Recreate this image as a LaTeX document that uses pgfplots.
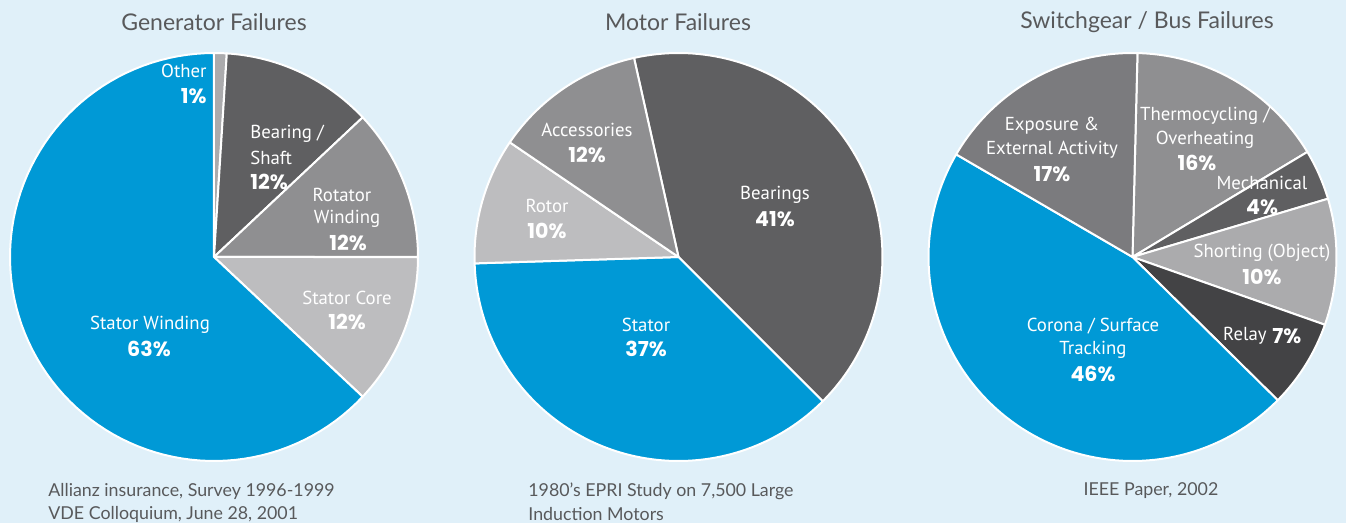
\documentclass[border=0pt]{standalone}
\usepackage{pgfplots}
\pgfplotsset{compat=1.18}
\usepgfplotslibrary{polar}
\usepackage{fontspec}
\setmainfont{Lato}
\newfontfamily\lab{PT Sans}
\newfontfamily\pctf{Poppins}
\definecolor{bg}{HTML}{E0F0F9}
\definecolor{pblue}{HTML}{0099D6}
\definecolor{g1}{HTML}{434345}
\definecolor{g2}{HTML}{5F5F61}
\definecolor{g3}{HTML}{7B7B7E}
\definecolor{g4}{HTML}{8F8F91}
\definecolor{g5}{HTML}{ABABAD}
\definecolor{g6}{HTML}{BDBDBF}
\definecolor{txt}{HTML}{58595B}
% pie wedge: percentage, colour; runs clockwise from \wstart
\newcommand\piewedge[2]{%
  \pgfmathsetmacro\wend{\wstart-3.6*#1}%
  \edef\doit{\noexpand\addplot[fill=#2, draw=white, line width=1pt, line join=round, domain=\wend:\wstart, samples=90] {1} -- (axis cs:0,0) -- cycle;}\doit
  \global\let\wstart\wend}
\pgfplotsset{pie/.style={hide axis, scale only axis, width=204pt, height=204pt, ymin=0, ymax=1, clip=false, anchor=center}}
\tikzset{lbl/.style={font=\lab\fontsize{9.4}{11}\selectfont, text=white, inner sep=0pt},
  pct/.style={font=\pctf\bfseries\fontsize{10.3}{12}\selectfont, text=white, inner sep=0pt},
  ttl/.style={font=\fontsize{11.5}{13}\selectfont, text=txt},
  src/.style={font=\fontsize{8.9}{10}\selectfont, text=txt, anchor=west, inner sep=0pt}}
\begin{document}
\begin{tikzpicture}[x=0.5pt,y=-0.5pt]
\fill[bg] (0,0) rectangle (1346,523);
% Generator failures
\gdef\wstart{90}
\begin{polaraxis}[pie, at={(107pt,-128.5pt)}]
\piewedge{1}{g5}
\piewedge{12}{g2}
\piewedge{12}{g4}
\piewedge{12}{g6}
\piewedge{63}{pblue}
\end{polaraxis}
% Motor failures
\gdef\wstart{102.6}
\begin{polaraxis}[pie, at={(339.25pt,-128.5pt)}]
\piewedge{41}{g2}
\piewedge{37}{pblue}
\piewedge{10}{g6}
\piewedge{12}{g4}
\end{polaraxis}
% Switchgear / bus failures
\gdef\wstart{88.6}
\begin{polaraxis}[pie, at={(566.25pt,-128.5pt)}]
\piewedge{16}{g4}
\piewedge{4}{g2}
\piewedge{10}{g5}
\piewedge{7}{g1}
\piewedge{46}{pblue}
\piewedge{17}{g3}
\end{polaraxis}
% titles
\node[ttl] at (214,22) {Generator Failures};
\node[ttl] at (678,22) {Motor Failures};
\node[ttl] at (1147,22) {Switchgear / Bus Failures};
% generator labels
\node[lbl, anchor=east] at (207,71) {Other};
\node[pct, anchor=east] at (207,96) {1\%};
\node[lbl, anchor=west] at (250,134) {Bearing /};
\node[lbl, anchor=west] at (250,158) {Shaft};
\node[pct, anchor=west] at (250,182) {12\%};
\node[lbl] at (342,195) {Rotator};
\node[lbl] at (347,219) {Winding};
\node[pct] at (348,243) {12\%};
\node[lbl] at (347,298) {Stator Core};
\node[pct] at (347,322) {12\%};
\node[lbl] at (150,325) {Stator Winding};
\node[pct] at (149,349) {63\%};
% motor labels
\node[lbl] at (587,130) {Accessories};
\node[pct] at (587,155) {12\%};
\node[lbl] at (547,206) {Rotor};
\node[pct] at (547,231) {10\%};
\node[lbl] at (775,195) {Bearings};
\node[pct] at (775,219) {41\%};
\node[lbl] at (646,325) {Stator};
\node[pct] at (646,349) {37\%};
% switchgear labels
\node[lbl] at (1052,126) {Exposure \&};
\node[lbl] at (1052,150) {External Activity};
\node[pct] at (1052,174) {17\%};
\node[lbl] at (1205,116) {Thermocycling /};
\node[lbl] at (1205,140) {Overheating};
\node[pct] at (1197,163) {16\%};
\node[lbl] at (1262,183) {Mechanical};
\node[pct] at (1262,207) {4\%};
\node[lbl] at (1262,253) {Shorting (Object)};
\node[pct] at (1262,277) {10\%};
\node[lbl, anchor=east] at (1267,336) {Relay};
\node[pct, anchor=west] at (1272,336) {7\%};
\node[lbl] at (1093,326) {Corona / Surface};
\node[lbl] at (1093,350) {Tracking};
\node[pct] at (1093,374) {46\%};
% sources
\node[src] at (48,491) {Allianz insurance, Survey 1996-1999};
\node[src] at (48,514) {VDE Colloquium, June 28, 2001};
\node[src] at (528,491) {1980's EPRI Study on 7,500 Large};
\node[src] at (528,514) {Induction Motors};
\node[src, anchor=center] at (1151,491) {IEEE Paper, 2002};
\end{tikzpicture}
\end{document}
